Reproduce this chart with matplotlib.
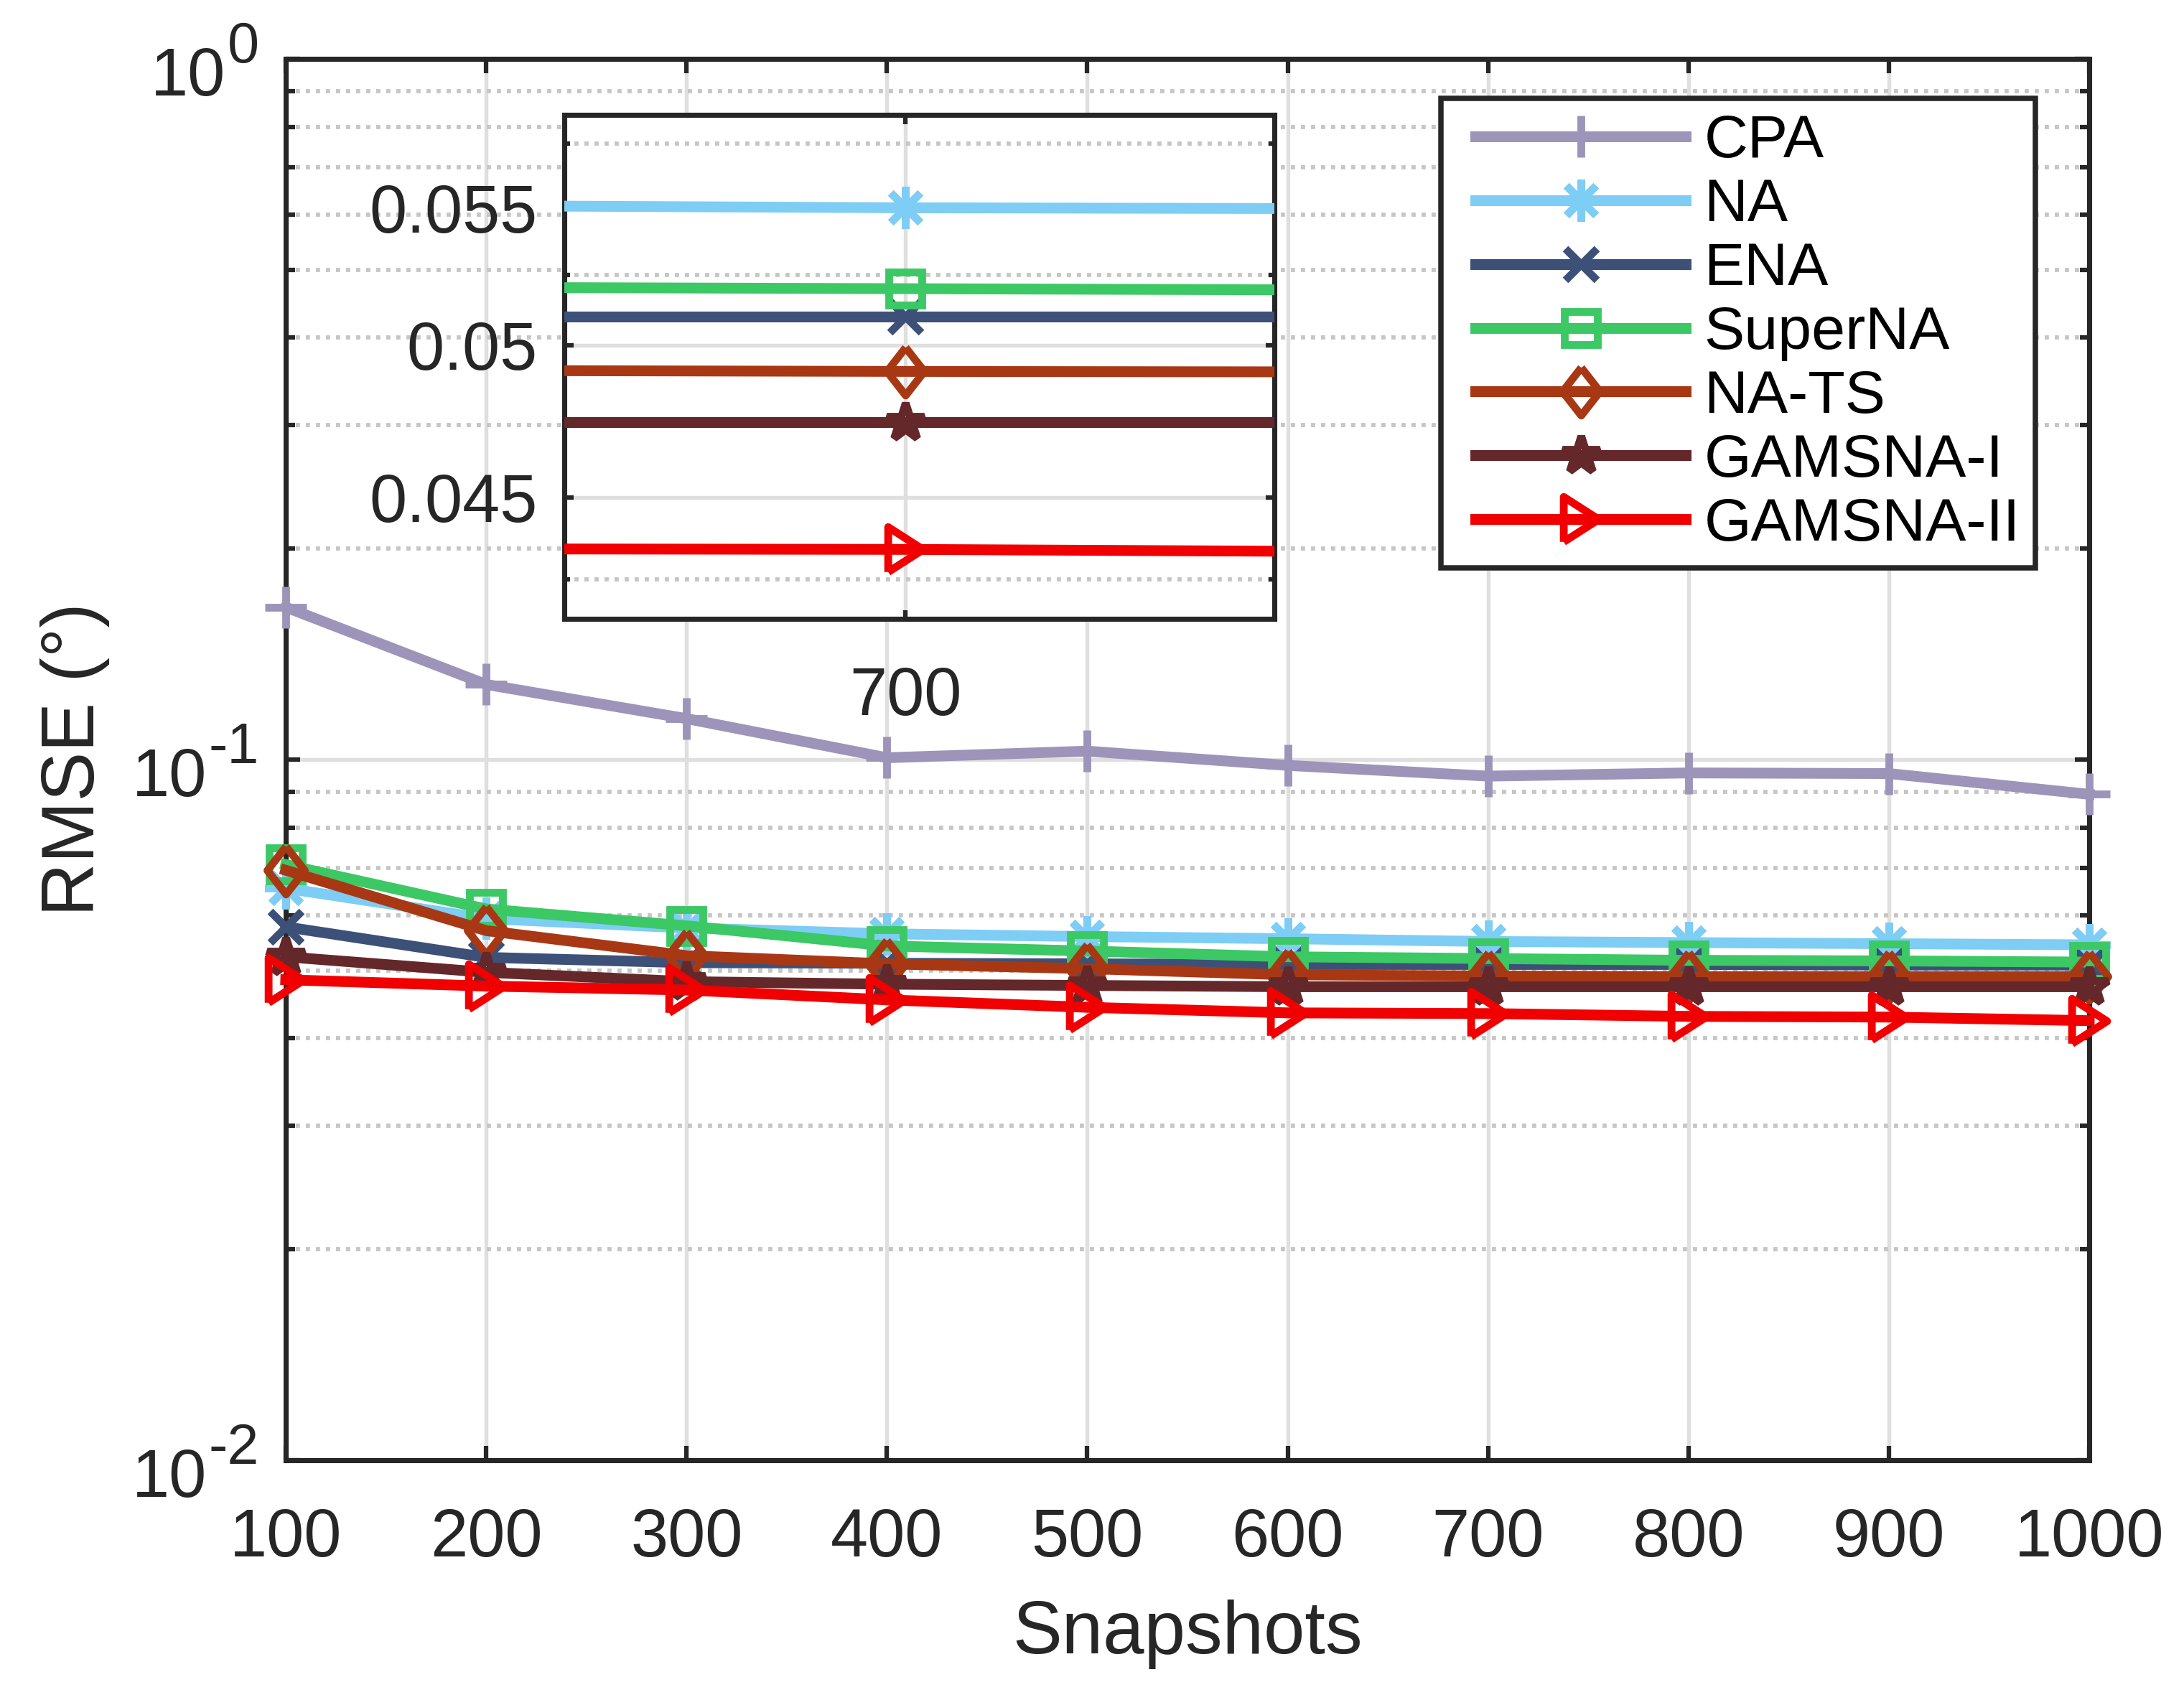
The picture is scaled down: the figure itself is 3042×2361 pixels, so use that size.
import math
import matplotlib
matplotlib.use('Agg')
import matplotlib.pyplot as plt
from matplotlib.patches import Rectangle
from matplotlib.ticker import FixedLocator, FixedFormatter, NullFormatter, LogLocator

plt.rcParams['font.family'] = ['Liberation Sans', 'DejaVu Sans']

# ---------------- data ----------------
snapshots = [100, 200, 300, 400, 500, 600, 700, 800, 900, 1000]
series_names = ['CPA', 'NA', 'ENA', 'SuperNA', 'NA-TS', 'GAMSNA-I', 'GAMSNA-II']
rmse_cpa = [0.165, 0.128, 0.1144, 0.1006, 0.1028, 0.0981, 0.0947, 0.0957, 0.0955, 0.0892]
rmse_na = [0.0655, 0.0593, 0.0575, 0.0564, 0.0559, 0.0555, 0.0550, 0.0548, 0.0546, 0.0544]
rmse_ena = [0.0577, 0.0522, 0.0513, 0.0512, 0.0511, 0.0510, 0.0510, 0.0510, 0.0509, 0.0509]
rmse_superna = [0.0708, 0.0612, 0.0579, 0.0542, 0.0533, 0.0523, 0.0520, 0.0517, 0.0516, 0.0514]
rmse_nats = [0.0695, 0.0570, 0.0525, 0.0511, 0.0503, 0.0493, 0.0491, 0.0490, 0.0490, 0.0490]
rmse_gamsna1 = [0.0523, 0.0497, 0.0482, 0.0478, 0.0476, 0.0474, 0.0474, 0.0474, 0.0474, 0.0474]
rmse_gamsna2 = [0.0485, 0.0475, 0.0469, 0.0454, 0.0443, 0.0435, 0.0434, 0.0430, 0.0429, 0.0424]

xticks = [100, 200, 300, 400, 500, 600, 700, 800, 900, 1000]
yticks_major = [0.01, 0.1, 1]
inset_xticks = [700]
inset_xticklabels = ['700']
inset_yticks = [0.045, 0.05, 0.055]
inset_yticklabels = ['0.045', '0.05', '0.055']
inset_yminor = [0.0425, 0.0475, 0.0525, 0.0575]

all_series = [rmse_cpa, rmse_na, rmse_ena, rmse_superna, rmse_nats, rmse_gamsna1, rmse_gamsna2]

# ---------------- styles ----------------
colors = ['#9D94BA', '#7DCDF5', '#3D5078', '#3CC864', '#A83814', '#64282A', '#F00000']
diamond = [(0, 1), (0.78, 0), (0, -1), (-0.78, 0), (0, 1)]
tri_right = [(-0.78, -1), (0.78, 0), (-0.78, 1), (-0.78, -1)]
markers = ['+', (8, 2, 0), 'x', 's', diamond, '*', tri_right]
msizes = [14, 14, 10.5, 11, 16, 13, 15]
TXT = '#262626'
LW = 3.6
MEW = 2.6
TICKFS = 22.5

W, H = 3042, 2361
fig = plt.figure(figsize=(W / 300, H / 300), dpi=300)
ax = fig.add_axes([398 / W, 1 - 2034 / H, (2910 - 398) / W, (2034 - 82) / H])

for name, vals, c, m, ms in zip(series_names, all_series, colors, markers, msizes):
    ax.plot(snapshots, vals, color=c, lw=LW, marker=m, ms=ms, mew=MEW,
            mfc='none', mec=c, label=name, clip_on=False, zorder=3)

ax.set_yscale('log')
ax.set_xlim(100, 1000)
ax.set_ylim(0.01, 1)
ax.set_xticks(xticks)
ax.set_xticklabels([str(v) for v in xticks])
ax.yaxis.set_major_locator(FixedLocator(yticks_major))
ax.yaxis.set_major_formatter(NullFormatter())
ax.yaxis.set_minor_locator(LogLocator(base=10, subs=[2, 3, 4, 5, 6, 7, 8, 9]))
ax.yaxis.set_minor_formatter(NullFormatter())

ax.set_axisbelow(True)
ax.grid(which='major', color='#DFDFDF', lw=1.3, ls='-')
ax.grid(which='minor', axis='y', color='#C6C6C6', lw=1.4, ls=(0, (1, 1.4)))

for s in ax.spines.values():
    s.set_linewidth(1.7)
    s.set_color(TXT)
ax.tick_params(which='both', direction='in', top=True, right=True, color=TXT,
               width=1.5, labelsize=TICKFS, labelcolor=TXT)
ax.tick_params(which='major', length=4.8)
ax.tick_params(which='minor', length=3.2)
ax.tick_params(axis='x', pad=15.5)

ax.set_xlabel('Snapshots', fontsize=24.75, color=TXT)
ax.set_ylabel('RMSE (°)', fontsize=24.75, color=TXT)
ax.xaxis.set_label_coords(0.5, -0.0994)
ax.yaxis.set_label_coords(-0.0975, 0.5)

leg = ax.legend(loc='upper right', bbox_to_anchor=(0.9701, 0.9718), borderaxespad=0,
                fontsize=20.25, handlelength=3.47, handletextpad=0.3, labelspacing=0.13,
                borderpad=0.25, frameon=False, numpoints=1)
leg.set_zorder(6)
for t in leg.get_texts():
    t.set_color('black')

# y tick labels in MATLAB style: "10" with a large raised exponent
sup_texts = []
for v in yticks_major:
    e = int(round(math.log10(v)))
    sup = ax.annotate(str(e).replace('\u2212', '-'), xy=(0, v), xycoords=('axes fraction', 'data'),
                      xytext=(-9.0, -1.1), textcoords='offset points', ha='right', va='baseline',
                      fontsize=19, color=TXT, annotation_clip=False)
    sup_texts.append((v, sup))

# ---------------- inset ----------------
axin = fig.add_axes([786 / W, 1 - 862 / H, (1775 - 786) / W, (862 - 160) / H])
axin.set_facecolor('white')
for name, vals, c, m, ms in zip(series_names, all_series, colors, markers, msizes):
    axin.plot(snapshots, vals, color=c, lw=LW, marker=m, ms=ms, mew=MEW,
              mfc='none', mec=c, zorder=3)
axin.set_yscale('log')
axin.set_xlim(687.5, 713.5)
axin.set_ylim(0.04136, 0.05866)
axin.xaxis.set_major_locator(FixedLocator(inset_xticks))
axin.xaxis.set_major_formatter(FixedFormatter(inset_xticklabels))
axin.yaxis.set_major_locator(FixedLocator(inset_yticks))
axin.yaxis.set_major_formatter(FixedFormatter(inset_yticklabels))
axin.yaxis.set_minor_locator(FixedLocator(inset_yminor))
axin.yaxis.set_minor_formatter(NullFormatter())
axin.xaxis.set_minor_locator(FixedLocator([]))
axin.set_axisbelow(True)
axin.grid(which='major', color='#DFDFDF', lw=1.3, ls='-')
axin.grid(which='minor', axis='y', color='#C6C6C6', lw=1.4, ls=(0, (1, 1.4)))
for s in axin.spines.values():
    s.set_linewidth(1.7)
    s.set_color(TXT)
axin.tick_params(which='both', direction='in', top=True, right=True, color=TXT,
                 width=1.5, labelsize=TICKFS, labelcolor=TXT)
axin.tick_params(which='major', length=3.0)
axin.tick_params(which='minor', length=2.0)
axin.tick_params(axis='x', pad=15.5)
axin.tick_params(axis='y', pad=9)

# ---- layout pass: place base "10" left of each exponent, legend frame ----
fig.canvas.draw()
renderer = fig.canvas.get_renderer()
for v, sup in sup_texts:
    wpt = sup.get_window_extent(renderer).width * 72 / fig.dpi
    ax.annotate('10', xy=(0, v), xycoords=('axes fraction', 'data'),
                xytext=(-9.0 - wpt - 0.6, -12.2), textcoords='offset points',
                ha='right', va='baseline', fontsize=TICKFS, color=TXT,
                annotation_clip=False)

bb = leg.get_window_extent(renderer)
extra_left = 27
x0, y0 = fig.transFigure.inverted().transform((bb.x0 - extra_left, bb.y0))
x1, y1 = fig.transFigure.inverted().transform((bb.x1, bb.y1))
frame = Rectangle((x0, y0), x1 - x0, y1 - y0, transform=fig.transFigure,
                  facecolor='white', edgecolor=TXT, lw=1.8, zorder=5, clip_on=False)
ax.add_patch(frame)

fig.savefig('out.png', dpi=300, facecolor='white')
